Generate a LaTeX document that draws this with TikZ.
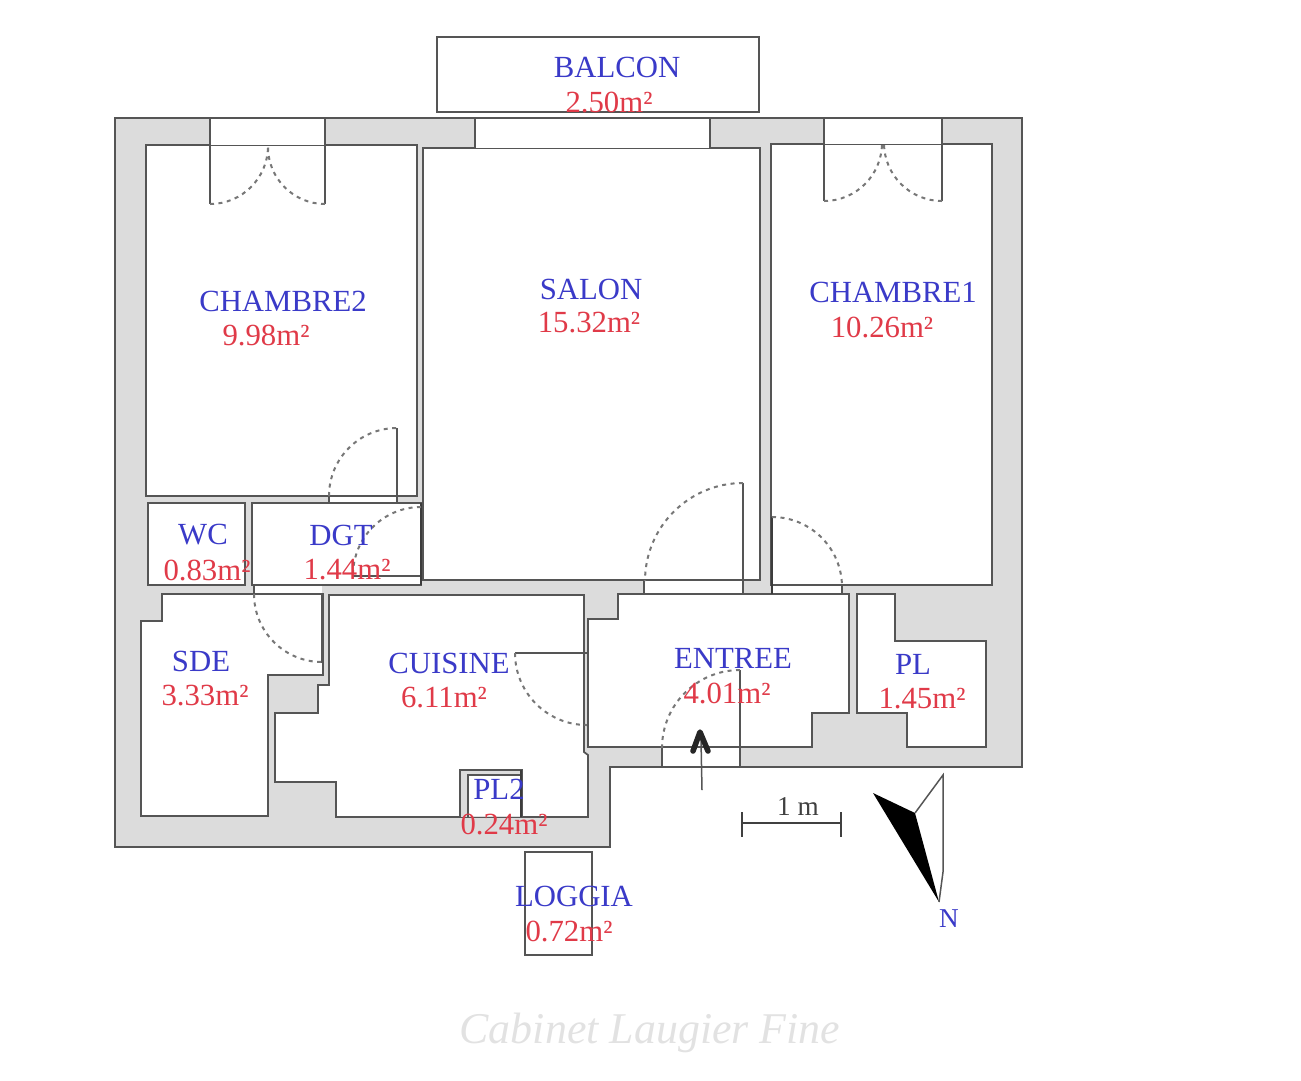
\documentclass[tikz,border=0pt]{standalone}
\usepackage{fontspec}
\setmainfont{Liberation Serif}
\definecolor{wallgray}{HTML}{DCDCDC}
\definecolor{linegray}{HTML}{555555}
\definecolor{labelblue}{HTML}{3A3AC8}
\definecolor{labelred}{HTML}{E03A48}
\definecolor{marklight}{HTML}{E2E2E2}
\tikzset{
  wall/.style={draw=linegray,line width=0.035cm,fill=wallgray},
  room/.style={draw=linegray,line width=0.035cm,fill=white,line join=miter},
  opening/.style={fill=white,draw=none},
  leaf/.style={draw=linegray,line width=0.03cm},
  thickleaf/.style={draw=linegray!70!black,line width=0.055cm},
  swing/.style={draw=linegray!80,line width=0.04cm,dash pattern=on 0.08cm off 0.09cm},
  tname/.style={font=\fontsize{17.5}{20}\selectfont,text=labelblue,inner sep=0pt,yshift=-0.02cm},
  tarea/.style={font=\fontsize{17.5}{20}\selectfont,text=labelred,inner sep=0pt,yshift=-0.02cm},
}
\begin{document}
\begin{tikzpicture}[x=0.02cm,y=-0.02cm]
\useasboundingbox (0,0) rectangle (1301,1080);
% outer walls
\draw[wall] (115,118) -- (1022,118) -- (1022,767) -- (610,767) -- (610,847) -- (115,847) -- cycle;
% balcony and loggia
\draw[room] (437,37) rectangle (759,112);
\draw[room] (525,852) rectangle (592,955);
% rooms
\draw[room] (146,145) rectangle (417,496);
\draw[room] (423,148) rectangle (760,580);
\draw[room] (771,144) rectangle (992,585);
\draw[room] (148,503) rectangle (245,585);
\draw[room] (252,503) rectangle (421,585);
\draw[room] (162,594) -- (323,594) -- (323,675) -- (268,675) -- (268,816) -- (141,816) -- (141,621) -- (162,621) -- cycle;
\draw[room] (329,595) -- (584,595) -- (584,752) -- (588,755) -- (588,817) -- (336,817) -- (336,782) -- (275,782) -- (275,713) -- (318,713) -- (318,685) -- (329,685) -- cycle;
\draw[room] (618,594) -- (849,594) -- (849,713) -- (812,713) -- (812,747) -- (588,747) -- (588,619) -- (618,619) -- cycle;
\draw[room] (857,594) -- (895,594) -- (895,641) -- (986,641) -- (986,747) -- (907,747) -- (907,713) -- (857,713) -- cycle;
% closet PL2
\draw[wall] (460,817) -- (460,770) -- (522,770) -- (522,817);
\fill[white] (468,775) rectangle (521,816);
\draw[leaf] (468,817) -- (468,775) -- (521,775);
\draw[thickleaf] (521,770) -- (521,817);
% wall openings
\fill[opening] (210.8,119) rectangle (324.2,145);
\fill[opening] (825,119) rectangle (941,144);
\fill[opening] (476,119) rectangle (709,147.5);
\fill[opening] (330,495) rectangle (396,504);
\fill[opening] (255,584) rectangle (322,595);
\fill[opening] (645,579) rectangle (742,595);
\fill[opening] (773,584) rectangle (841,595);
\fill[opening] (663,746) rectangle (739,766);
\draw[leaf] (329,496) -- (397,496) (329,503) -- (397,503);
\draw[leaf] (255,585) -- (322,585) (255,594) -- (322,594);
\draw[leaf] (644,580) -- (743,580) (644,594) -- (743,594);
\draw[leaf] (772,585) -- (842,585) (772,594) -- (842,594);
\draw[leaf] (662,747) -- (740,747);
% opening jambs and door leaves
\draw[leaf] (210,118) -- (210,204);
\draw[leaf] (325,118) -- (325,204);
\draw[leaf] (824,118) -- (824,201);
\draw[leaf] (942,118) -- (942,201);
\draw[leaf] (475,118) -- (475,148);
\draw[leaf] (710,118) -- (710,148);
\draw[leaf] (397,503) -- (397,428);
\draw[leaf] (329,496) -- (329,503);
\draw[leaf] (743,594) -- (743,483);
\draw[leaf] (644,580) -- (644,594);
\draw[leaf] (662,747) -- (662,767);
\draw[leaf] (740,767) -- (740,670);
\draw[leaf] (254,585) -- (254,594);
\draw[leaf] (515,653) -- (588,653);
\draw[leaf] (353,576) -- (421,576);
\draw[thickleaf] (421,503) -- (421,585);
\draw[thickleaf] (772,517) -- (772,594);
\draw[thickleaf] (322,635) -- (322,663);
\draw[leaf] (322,594) -- (322,663);
\draw[leaf] (842,585) -- (842,594);
% door swings (y axis points down, so angles run the other way)
\draw[swing] (210,204) arc[start angle=90,end angle=0,radius=58];
\draw[swing] (325,204) arc[start angle=90,end angle=180,radius=57];
\draw[swing] (824,201) arc[start angle=90,end angle=0,radius=58];
\draw[swing] (942,201) arc[start angle=90,end angle=180,radius=58];
\draw[swing] (329,496) arc[start angle=180,end angle=270,radius=68];
\draw[swing] (421,507) arc[start angle=270,end angle=180,radius=68];
\draw[swing] (254,594) arc[start angle=180,end angle=90,radius=68];
\draw[swing] (515,653) arc[start angle=180,end angle=90,radius=72];
\draw[swing] (743,483) arc[start angle=270,end angle=180,radius=98];
\draw[swing] (772,517) arc[start angle=270,end angle=360,radius=70];
\draw[swing] (740,670) arc[start angle=270,end angle=180,radius=78];
% entry arrow
\coordinate (arrowfoot) at (702,790);
\coordinate (arrowhead) at (700,732);
\draw[leaf] (arrowfoot) -- (701,740);
\draw[line width=0.11cm,black!85,line cap=round,line join=round] (693,751) -- (arrowhead) -- (708,751);
% scale bar
\coordinate (scaleL) at (742,823);
\coordinate (scaleR) at (841,823);
\draw[draw=black!75,line width=0.05cm] (scaleL) -- (scaleR);
\draw[draw=black!75,line width=0.05cm] (742,812) -- (742,837) (841,812) -- (841,837);
\node[font=\fontsize{15.5}{18}\selectfont,text=black!75,inner sep=0pt] (scalelabel) at (798,806) {1 m};
% north arrow
\fill[black] (873,793) -- (915,813) -- (939,902) -- cycle;
\draw[leaf] (915,813) -- (943,775) -- (943,872) -- (939,902);
\node[tname,font=\fontsize{15.5}{18}\selectfont] (north) at (949,918) {N};
% labels
\node[tname] (balconn) at (617,66) {BALCON};
\node[tarea] (balcona) at (609,101) {2.50m²};
\node[tname] (ch2n) at (283,300) {CHAMBRE2};
\node[tarea] (ch2a) at (266,334) {9.98m²};
\node[tname] (salonn) at (591,288) {SALON};
\node[tarea] (salona) at (589,322) {15.32m²};
\node[tname] (ch1n) at (893,291) {CHAMBRE1};
\node[tarea] (ch1a) at (882,326) {10.26m²};
\node[tname] (wcn) at (203,534) {WC};
\node[tarea] (wca) at (207,569) {0.83m²};
\node[tname] (dgtn) at (341,534) {DGT};
\node[tarea] (dgta) at (347,569) {1.44m²};
\node[tname] (sden) at (201,660) {SDE};
\node[tarea] (sdea) at (205,695) {3.33m²};
\node[tname] (cuisn) at (449,662) {CUISINE};
\node[tarea] (cuisa) at (444,697) {6.11m²};
\node[tname] (entn) at (733,657) {ENTREE};
\node[tarea] (enta) at (727,692) {4.01m²};
\node[tname] (pln) at (913,663) {PL};
\node[tarea] (pla) at (922,698) {1.45m²};
\node[tname] (pl2n) at (499,788) {PL2};
\node[tarea] (pl2a) at (504,823) {0.24m²};
\node[tname] (logn) at (574,895) {LOGGIA};
\node[tarea] (loga) at (569,930) {0.72m²};
\node[font=\fontsize{25}{28}\selectfont\itshape,text=marklight,inner sep=0pt] (mark) at (650,1033) {Cabinet Laugier Fine};
\end{tikzpicture}
\end{document}
